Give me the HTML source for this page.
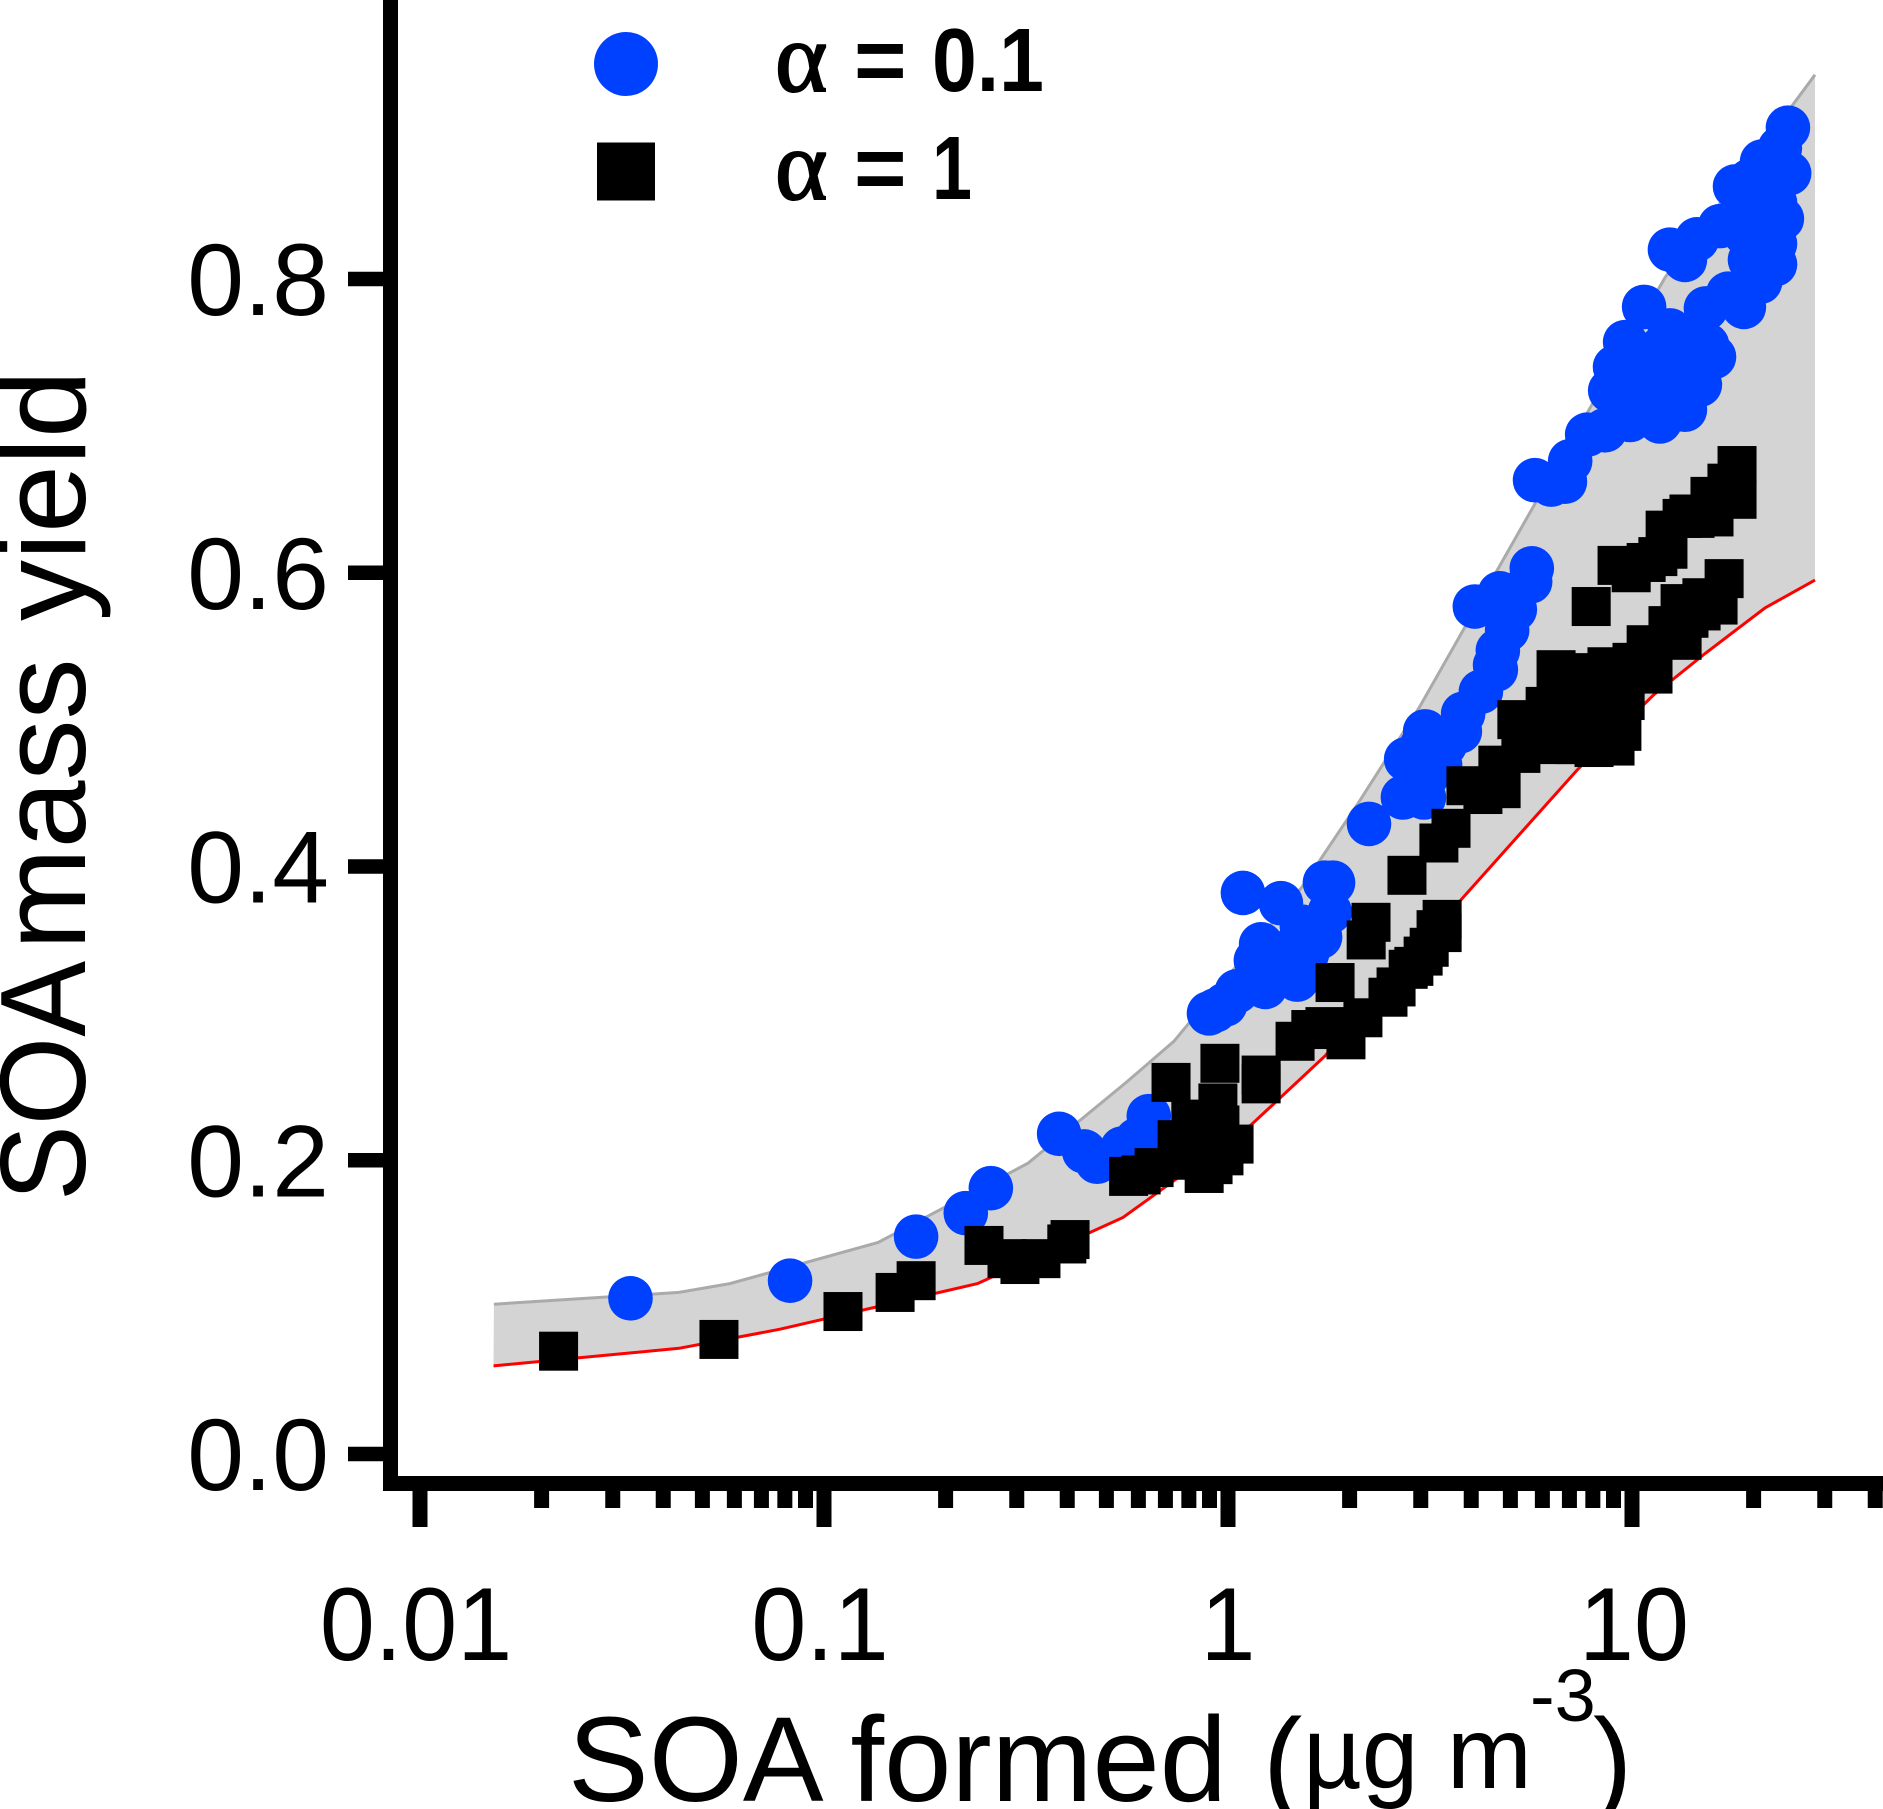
<!DOCTYPE html>
<html lang="en">
<head>
<meta charset="utf-8">
<title>SOA mass yield vs SOA formed</title>
<style>
html,body{margin:0;padding:0;background:#fff;width:1883px;height:1809px;overflow:hidden}
svg{display:block}
text{font-family:"Liberation Sans",sans-serif;fill:#000}
text.alpha{font-family:"Liberation Serif",serif;font-size:100px;stroke:#000;stroke-width:2px}
text.legend-text{font-size:90px;font-weight:700}
</style>
</head>
<body>
<svg id="chart" xmlns="http://www.w3.org/2000/svg" width="1883" height="1809" viewBox="0 0 1883 1809">
  <g id="band"></g>
  <g id="circles"></g>
  <g id="squares"></g>
  <g id="axes"></g>
  <g>
    <circle cx="626" cy="64" r="32" fill="#0040ff"/>
    <rect x="597" y="142.5" width="58" height="58" fill="#000"/>
    <g>
      <text class="alpha" x="775" y="91">α</text>
      <text class="legend-text" x="854" y="91">=</text>
      <text class="legend-text" x="932" y="91" textLength="112" lengthAdjust="spacingAndGlyphs">0.1</text>
    </g>
    <g>
      <text class="alpha" x="775" y="199">α</text>
      <text class="legend-text" x="854" y="199">=</text>
      <text class="legend-text" x="932" y="199" textLength="40" lengthAdjust="spacingAndGlyphs">1</text>
    </g>
  </g>
  <g transform="translate(85,1201) rotate(-90)" font-size="122">
    <text x="0" y="0" textLength="240" lengthAdjust="spacingAndGlyphs">SOA</text>
    <text x="251" y="0">mass</text>
    <text x="580" y="0">yield</text>
  </g>
  <g>
    <text x="568" y="1801" font-size="121">SOA formed</text>
    <text x="1263" y="1801" font-size="118">(</text>
    <text x="1303" y="1788" font-size="102">µg m</text>
    <text x="1530" y="1721" font-size="74">-3</text>
    <text x="1593" y="1801" font-size="118">)</text>
  </g>
</svg>
<script>
// Log10 of SOA formed (µg m-3) and SOA mass yield
const upperLogSoa = [-1.817,-1.359,-1.233,-0.866,-0.495,-0.252,-0.134,0.183,0.322,0.475,0.760,1.082,1.453];
const upperYield  = [0.102,0.110,0.116,0.144,0.198,0.253,0.281,0.386,0.443,0.509,0.647,0.801,0.939];
const lowerLogSoa = [-1.818,-1.359,-1.109,-0.620,-0.260,0.057,0.240,0.579,0.865,1.054,1.181,1.329,1.453];
const lowerYield  = [0.060,0.072,0.085,0.116,0.161,0.224,0.271,0.378,0.466,0.517,0.545,0.576,0.595];

const circleLogSoa = [-1.479,-1.084,-0.772,-0.649,-0.587,-0.418,-0.356,-0.324,-0.262,-0.225,-0.196,-0.047,-0.032,-0.007,0.022,0.092,0.171,0.082,0.037,0.131,0.240,0.260,0.252,0.228,0.183,0.196,0.119,0.134,0.069,0.349,0.433,0.485,0.441,0.488,0.480,0.525,0.493,0.574,0.582,0.626,0.611,0.663,0.668,0.673,0.661,0.691,0.710,0.748,0.752,0.760,0.800,0.834,0.847,0.889,0.933,0.995,1.069,1.131,0.946,0.958,0.983,1.030,1.045,1.106,1.136,1.045,1.094,1.144,1.186,1.203,1.119,1.007,1.183,1.238,1.277,1.317,1.094,1.131,1.161,1.218,1.292,1.354,1.354,1.371,1.317,1.280,1.255,1.292,1.322,1.389,1.342,1.386,1.366,1.292,1.354,1.069,1.069,0.995,1.168,1.329,1.317,0.537];
const circleYield  = [0.106,0.118,0.148,0.164,0.181,0.218,0.206,0.199,0.208,0.214,0.230,0.300,0.302,0.306,0.315,0.318,0.323,0.347,0.382,0.375,0.389,0.389,0.369,0.352,0.359,0.341,0.341,0.331,0.336,0.429,0.447,0.447,0.473,0.492,0.482,0.469,0.462,0.492,0.504,0.519,0.577,0.534,0.547,0.586,0.537,0.561,0.575,0.594,0.603,0.663,0.660,0.662,0.676,0.694,0.697,0.704,0.703,0.711,0.724,0.740,0.757,0.781,0.725,0.725,0.722,0.743,0.765,0.755,0.755,0.747,0.740,0.719,0.780,0.790,0.781,0.798,0.820,0.813,0.827,0.836,0.813,0.810,0.824,0.841,0.840,0.831,0.863,0.867,0.880,0.872,0.865,0.903,0.889,0.850,0.852,0.731,0.752,0.728,0.728,0.827,0.854,0.483];

const squareLogSoa = [-1.657,-1.260,-0.953,-0.824,-0.772,-0.604,-0.547,-0.515,-0.463,-0.399,-0.391,-0.246,-0.141,-0.020,-0.025,0.082,0.082,-0.092,-0.126,0.015,-0.010,-0.037,-0.059,-0.215,-0.183,-0.119,-0.020,-0.069,0.166,0.205,0.240,0.292,0.334,0.396,0.416,0.446,0.460,0.483,0.498,0.530,0.530,0.265,0.354,0.342,0.515,0.443,0.522,0.552,0.589,0.676,0.631,0.668,0.725,0.785,0.715,0.812,0.958,0.975,0.975,0.906,0.812,0.891,0.864,0.851,0.802,0.941,0.941,0.859,0.748,1.052,1.124,1.035,1.000,0.938,0.983,1.089,1.141,1.171,1.213,1.228,1.173,1.119,0.899,0.963,0.998,1.035,1.064,1.089,1.124,1.141,1.156,1.193,1.203,1.235,1.260,1.260,1.082];
const squareYield  = [0.070,0.078,0.097,0.110,0.118,0.142,0.133,0.129,0.133,0.143,0.146,0.189,0.253,0.266,0.239,0.258,0.252,0.228,0.214,0.211,0.203,0.197,0.191,0.190,0.195,0.200,0.224,0.214,0.281,0.289,0.291,0.282,0.297,0.311,0.318,0.330,0.332,0.339,0.345,0.355,0.364,0.321,0.362,0.350,0.357,0.394,0.416,0.426,0.455,0.453,0.449,0.469,0.477,0.509,0.500,0.534,0.482,0.492,0.519,0.481,0.483,0.532,0.519,0.500,0.498,0.500,0.522,0.483,0.493,0.531,0.554,0.551,0.539,0.536,0.513,0.564,0.569,0.574,0.578,0.596,0.583,0.579,0.577,0.605,0.600,0.607,0.611,0.616,0.637,0.640,0.637,0.652,0.638,0.661,0.673,0.650,0.629];

const xMajorTicks = [0.01,0.1,1,10];
const xMinorTicks = [0.02,0.03,0.04,0.05,0.06,0.07,0.08,0.09,0.2,0.3,0.4,0.5,0.6,0.7,0.8,0.9,2,3,4,5,6,7,8,9,20,30,40];
const xTickLabels = ["0.01","0.1","1","10"];
const yTicks = [0,0.2,0.4,0.6,0.8];
const yTickLabels = ["0.0","0.2","0.4","0.6","0.8"];

const SVGNS = "http://www.w3.org/2000/svg";
function xScale(logValue){ return 1228 + 404 * logValue; }
function yScale(value){ return 1454 - 1468.75 * value; }
function make(tag, attrs, parent){
  const el = document.createElementNS(SVGNS, tag);
  for (const k in attrs) el.setAttribute(k, attrs[k]);
  parent.appendChild(el);
  return el;
}
function pts(xs, ys){ return xs.map((v,i)=>xScale(v).toFixed(1)+","+yScale(ys[i]).toFixed(1)); }
function labelNudge(label){ return label.length > 2 ? -4 : (label.length === 2 ? 2 : 0); }

const band = document.getElementById("band");
const upperPts = pts(upperLogSoa, upperYield);
const lowerPts = pts(lowerLogSoa, lowerYield);
const fillArea = make("polygon", {points: upperPts.concat(lowerPts.slice().reverse()).join(" "), fill:"#d4d4d4"}, band);


const upperLine = make("polyline", {points: upperPts.join(" "), fill:"none", stroke:"#aaaaaa", "stroke-width":3}, band);


const lowerLine = make("polyline", {points: lowerPts.join(" "), fill:"none", stroke:"#ff0000", "stroke-width":3}, band);



const circlesG = document.getElementById("circles");
circleLogSoa.forEach((v,i)=>{
  const c = make("circle", {cx:xScale(v), cy:yScale(circleYield[i]), r:22.3, fill:"#0040ff"}, circlesG);
  
  
});

const squaresG = document.getElementById("squares");
squareLogSoa.forEach((v,i)=>{
  const s = make("rect", {x:xScale(v)-19.5, y:yScale(squareYield[i])-19.5, width:39, height:39, fill:"#000"}, squaresG);
  
  
});

const axes = document.getElementById("axes");
const yAxisLine = make("rect", {x:383, y:0, width:15, height:1491, fill:"#000"}, axes);


const xAxisLine = make("rect", {x:383, y:1476, width:1500, height:15, fill:"#000"}, axes);



yTicks.forEach((v,i)=>{
  const t = make("rect", {x:348, y:yScale(v)-7.25, width:35, height:14.5, fill:"#000"}, axes);
  
  
  const l = make("text", {x:329, y:yScale(v)+36, "text-anchor":"end", "font-size":102}, axes);
  
  
  l.textContent = yTickLabels[i];
});
xMajorTicks.forEach((v,i)=>{
  const x = xScale(Math.log10(v));
  const t = make("rect", {x:x-7.5, y:1490, width:15, height:37, fill:"#000"}, axes);
  
  
  const l = make("text", {transform:"translate("+(x+labelNudge(xTickLabels[i]))+",1660) scale(0.95,1)", "text-anchor":"middle", "font-size":104}, axes);
  
  
  l.textContent = xTickLabels[i];
});
xMinorTicks.forEach(v=>{
  const x = xScale(Math.log10(v));
  const t = make("rect", {x:x-7.5, y:1490, width:15, height:18, fill:"#000"}, axes);
  
  
});
</script>
</body>
</html>
